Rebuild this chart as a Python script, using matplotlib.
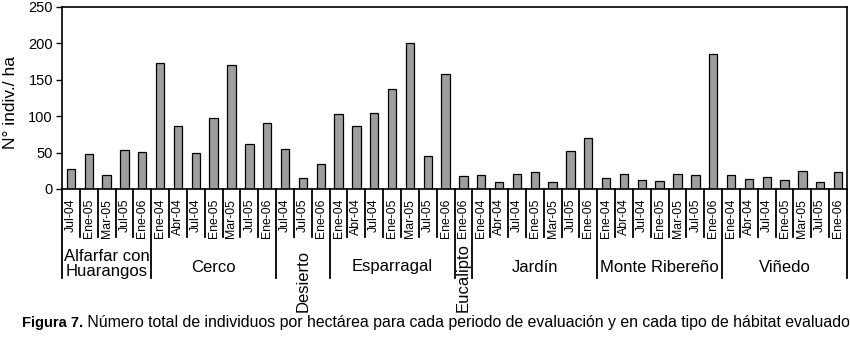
import matplotlib
matplotlib.use("Agg")
import matplotlib.pyplot as plt
import numpy as np

plt.rcParams['font.family'] = ['Liberation Sans', 'DejaVu Sans']

# ---- data ----
groups = ["Alfarfar con\nHuarangos", "Cerco", "Desierto", "Esparragal",
          "Eucalipto", "Jardín", "Monte Ribereño", "Viñedo"]
periods_alfarfar = ["Jul-04", "Ene-05", "Mar-05", "Jul-05", "Ene-06"]
periods_cerco = ["Ene-04", "Abr-04", "Jul-04", "Ene-05", "Mar-05", "Jul-05", "Ene-06"]
periods_desierto = ["Jul-04", "Jul-05", "Ene-06"]
periods_esparragal = ["Ene-04", "Abr-04", "Jul-04", "Ene-05", "Mar-05", "Jul-05", "Ene-06"]
periods_eucalipto = ["Ene-06"]
periods_jardin = ["Ene-04", "Abr-04", "Jul-04", "Ene-05", "Mar-05", "Jul-05", "Ene-06"]
periods_monte = ["Ene-04", "Abr-04", "Jul-04", "Ene-05", "Mar-05", "Jul-05", "Ene-06"]
periods_vinedo = ["Ene-04", "Abr-04", "Jul-04", "Ene-05", "Mar-05", "Jul-05", "Ene-06"]

vals_alfarfar = [27, 48, 19, 53, 51]
vals_cerco = [173, 87, 50, 97, 171, 62, 90]
vals_desierto = [55, 15, 34]
vals_esparragal = [103, 86, 105, 137, 201, 46, 158]
vals_eucalipto = [18]
vals_jardin = [19, 9, 20, 24, 10, 52, 70]
vals_monte = [15, 21, 12, 11, 20, 19, 185]
vals_vinedo = [19, 14, 16, 12, 25, 10, 24]

yticks = [0, 50, 100, 150, 200, 250]
ylabel = "N° indiv./ ha"
caption_bold = "Figura 7."
caption_rest = " Número total de individuos por hectárea para cada periodo de evaluación y en cada tipo de hábitat evaluado"

period_lists = [periods_alfarfar, periods_cerco, periods_desierto, periods_esparragal,
                periods_eucalipto, periods_jardin, periods_monte, periods_vinedo]
value_lists = [vals_alfarfar, vals_cerco, vals_desierto, vals_esparragal,
               vals_eucalipto, vals_jardin, vals_monte, vals_vinedo]

labels = [p for pl in period_lists for p in pl]
values = [v for vl in value_lists for v in vl]
x = np.arange(len(values))

# ---- figure ----
W, H = 850, 339
fig = plt.figure(figsize=(W / 100, H / 100), dpi=100)
ax_l, ax_r, ax_t, ax_b = 62, 847, 7, 189
ax = fig.add_axes([ax_l / W, 1 - ax_b / H, (ax_r - ax_l) / W, (ax_b - ax_t) / H])

ax.bar(x, values, width=0.47, color='#9e9e9e', edgecolor='black', linewidth=0.9, zorder=2)
ax.set_xlim(-0.5, len(values) - 0.5)
ax.set_ylim(0, 250)
ax.set_yticks(yticks)
ax.tick_params(axis='y', direction='out', length=4.5, width=1, labelsize=10.5, pad=2)
ax.set_xticks(x)
ax.set_xticklabels(labels, rotation=90, fontsize=8.8)
ax.tick_params(axis='x', length=0, pad=7)
for s in ax.spines.values():
    s.set_linewidth(1.2)

trans = ax.get_xaxis_transform()
ph = ax_b - ax_t
y_short = -(237 - ax_b) / ph
y_long = -(278 - ax_b) / ph

# boundaries
sizes = [len(pl) for pl in period_lists]
edges = np.concatenate([[0], np.cumsum(sizes)]) - 0.5
group_edges = set(np.round(edges, 2))
for b in np.arange(-0.5, len(values), 1.0):
    yb = y_long if round(b, 2) in group_edges else y_short
    ax.plot([b, b], [0, yb], color='black', lw=1.3, transform=trans, clip_on=False)

# group labels
for g, lo, hi in zip(groups, edges[:-1], edges[1:]):
    cx = (lo + hi) / 2
    if g in ("Desierto", "Eucalipto"):
        ax.text(cx, -(312 - ax_b) / ph, g, transform=trans, rotation=90,
                ha='center', va='bottom', fontsize=12)
    elif "\n" in g:
        ax.text(cx, -(264 - ax_b) / ph, g, transform=trans, ha='center', va='center',
                fontsize=12, linespacing=0.95)
    else:
        ax.text(cx, -(267 - ax_b) / ph, g, transform=trans, ha='center', va='center',
                fontsize=12)

fig.text(11 / W, 1 - 103 / H, ylabel, rotation=90, ha='center', va='center', fontsize=12.5)

# caption
t1 = fig.text(22 / W, 1 - 323 / H, caption_bold, fontweight='bold', fontsize=10.6,
              ha='left', va='center')
fig.canvas.draw()
bb = t1.get_window_extent()
fig.text(bb.x1 / W, 1 - 323 / H, caption_rest, fontsize=11.4, ha='left', va='center')

fig.savefig("out.png", dpi=100)
